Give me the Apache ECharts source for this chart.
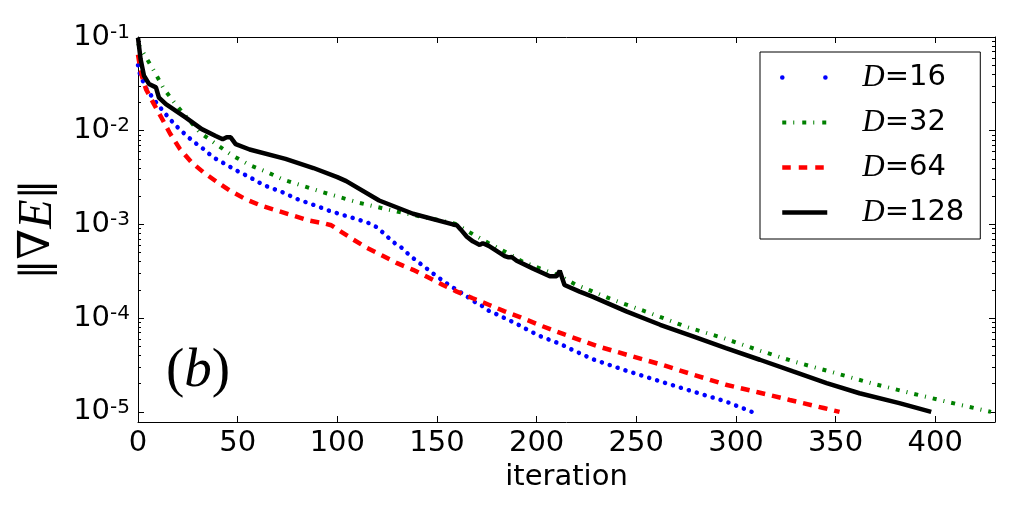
<!DOCTYPE html>
<html>
<head>
<meta charset="utf-8">
<script src="https://cdn.jsdelivr.net/npm/echarts@6/dist/echarts.min.js"></script>
<style>
html,body{margin:0;padding:0;background:#fff;}
#chart{width:1012px;height:512px;}
</style>
</head>
<body>
<div id="chart"></div>
<script>
// ---- data ----
const seriesNames = ['D=16', 'D=32', 'D=64', 'D=128'];

const d16Iter = [0, 1, 4, 8, 12, 16, 20, 24, 28, 32, 36, 40, 44, 48, 52, 56, 60, 64, 68, 72, 80, 88, 96, 104, 112, 116, 120, 124, 128, 132, 136, 140, 144, 148, 152, 156, 160, 164, 168, 172, 176, 180, 184, 190, 196, 202, 208, 212, 216, 228, 245, 262, 278, 295, 308];
const d16Grad = [0.05, 0.04, 0.0285, 0.0215, 0.0168, 0.0133, 0.0108, 0.0090, 0.0076, 0.0066, 0.0056, 0.00485, 0.0044, 0.0039, 0.00352, 0.0032, 0.00285, 0.00258, 0.0024, 0.00223, 0.00186, 0.00162, 0.0014, 0.00124, 0.0011, 0.00103, 0.00093, 0.00078, 0.00065, 0.00057, 0.000475, 0.000405, 0.00035, 0.0003, 0.00026, 0.000226, 0.0002, 0.000177, 0.000153, 0.000138, 0.00012, 0.00011, 0.0001, 0.000087, 0.000074, 0.000064, 0.000057, 0.000053, 0.000048, 0.0000366, 0.0000275, 0.0000212, 0.0000166, 0.0000129, 0.00001];

const d32Iter = [0, 3, 8, 13, 19, 25, 31, 40, 47, 56, 65, 73, 93, 111, 130, 150, 159, 167, 176, 185, 193, 212, 220, 238, 257, 275, 294, 312, 330, 349, 368, 387, 406, 428];
const d32Grad = [0.085, 0.066, 0.0436, 0.028, 0.019, 0.0135, 0.0096, 0.0070, 0.0055, 0.0043, 0.0036, 0.0030, 0.0022, 0.0017, 0.00137, 0.00112, 0.00102, 0.00081, 0.00063, 0.0005, 0.0004, 0.00028, 0.000226, 0.000158, 0.000113, 0.000081, 0.000061, 0.000045, 0.000034, 0.0000263, 0.0000202, 0.000016, 0.0000128, 0.00001];

const d64Iter = [0, 1, 2, 4, 8, 12, 16, 21, 27, 33, 40, 46, 54, 62, 70, 78, 86, 94, 97, 101, 108, 115, 123, 130, 138, 146, 153, 160, 168, 176, 184, 192, 203, 214, 230, 247, 263, 279, 295, 311, 327, 344, 352];
const d64Grad = [0.065, 0.048, 0.038, 0.0278, 0.0192, 0.0135, 0.0094, 0.0064, 0.00457, 0.00358, 0.0028, 0.0023, 0.00186, 0.00158, 0.0014, 0.00124, 0.0011, 0.00102, 0.00098, 0.00086, 0.00069, 0.00056, 0.00046, 0.000386, 0.000328, 0.00027, 0.000226, 0.000192, 0.000163, 0.000139, 0.000118, 0.000102, 0.000082, 0.000067, 0.0000506, 0.0000397, 0.0000318, 0.0000248, 0.0000195, 0.0000162, 0.0000134, 0.000011, 0.00001];

const d128Iter = [0, 0.5, 1.3, 3, 5.5, 9, 10.5, 14, 24, 32, 39, 42.5, 44.5, 46.5, 49, 56, 74, 88, 100, 104.5, 121, 138, 158, 160, 162, 165, 168, 171.5, 173, 176, 184, 186, 187.5, 190, 198, 206.6, 210, 211.6, 214, 221.6, 228, 245, 262, 278.5, 295, 312, 328.7, 345.5, 362, 382, 398];
const d128Grad = [0.098, 0.08, 0.058, 0.0386, 0.0316, 0.029, 0.0226, 0.0192, 0.0138, 0.0104, 0.0088, 0.0081, 0.0085, 0.0085, 0.0072, 0.0063, 0.0050, 0.0040, 0.0032, 0.0029, 0.0018, 0.0013, 0.00100, 0.00098, 0.00088, 0.00074, 0.00066, 0.000605, 0.00063, 0.00059, 0.00046, 0.000445, 0.00045, 0.00041, 0.00034, 0.00028, 0.00028, 0.00032, 0.000226, 0.000192, 0.00017, 0.000118, 0.000085, 0.000064, 0.000048, 0.000036, 0.000027, 0.0000203, 0.0000158, 0.0000124, 0.00001];

const xTickLabels = [0, 50, 100, 150, 200, 250, 300, 350, 400];
const yMajorTicks = [1e-5, 1e-4, 1e-3, 1e-2, 1e-1];
const yMinorTicks = [];
[1e-5, 1e-4, 1e-3, 1e-2].forEach(d => { for (let k = 2; k <= 9; k++) yMinorTicks.push(+(d * k).toPrecision(3)); });

const xMin = 0, xMax = 430, yMin = 7.8e-6, yMax = 0.1;

// ---- build ----
function zip(a, b) { return a.map((v, i) => [v, b[i]]); }

const chart = echarts.init(document.getElementById('chart'), null, { renderer: 'canvas' });

const FONT = 'DejaVu Sans';
const SERIF = 'Liberation Serif';

function supLabel(v) {
  const e = Math.log10(v);
  const r = Math.round(e);
  if (Math.abs(e - r) > 1e-6) return '';
  return '{b|10}{s|' + r + '}';
}

const baseY = {
  type: 'log', min: yMin, max: yMax, logBase: 10,
  splitLine: { show: false }, minorTick: { show: false },
  axisLine: { show: true, lineStyle: { color: '#000', width: 1 } }
};

const option = {
  animation: false,
  backgroundColor: '#fff',
  grid: { left: 138, right: 17, top: 37, bottom: 90, containLabel: false },
  title: {
    text: '{p|(}{b|b}{p|)}', left: 161, top: 339,
    textStyle: { rich: {
      p: { fontFamily: SERIF, fontWeight: 'normal', fontSize: 55, color: '#000' },
      b: { fontFamily: SERIF, fontStyle: 'italic', fontWeight: 'normal', fontSize: 55, color: '#000' }
    } }
  },
  legend: {
    orient: 'vertical', left: 760, top: 52,
    padding: [10, 16, 11, 20],
    itemWidth: 45, itemHeight: 14, itemGap: 14,
    backgroundColor: '#fff', borderColor: '#000', borderWidth: 1, borderRadius: 0,
    selectedMode: false,
    itemStyle: { opacity: 0 },
    data: [
      { name: 'D=16', lineStyle: { type: [0.1, 43], cap: 'round', width: 4.5 } },
      { name: 'D=32', lineStyle: { type: [4, 7, 1, 8], width: 4 } },
      { name: 'D=64', lineStyle: { type: [8.5, 8], width: 4.5 } },
      { name: 'D=128', lineStyle: { type: 'solid', width: 4.5 } }
    ],
    formatter: function (name) { return '{i|D}{t|' + name.slice(1) + '}'; },
    textStyle: {
      width: 100, padding: [0, 0, 0, 30],
      rich: {
        i: { fontFamily: SERIF, fontStyle: 'italic', fontSize: 31, lineHeight: 30, color: '#000' },
        t: { fontFamily: FONT, fontSize: 29, lineHeight: 30, color: '#000' }
      }
    }
  },
  xAxis: [
    {
      type: 'value', min: xMin, max: xMax, interval: 50, position: 'bottom',
      name: 'iteration', nameLocation: 'middle', nameGap: 38,
      nameTextStyle: { fontFamily: FONT, fontSize: 29, color: '#000' },
      splitLine: { show: false },
      axisLine: { lineStyle: { color: '#000', width: 1 } },
      axisTick: { inside: true, length: 6, lineStyle: { color: '#000' } },
      axisLabel: {
        customValues: xTickLabels, margin: 7,
        fontFamily: FONT, fontSize: 29, color: '#000',
        formatter: v => (xTickLabels.indexOf(v) >= 0 ? String(v) : '')
      }
    },
    {
      type: 'value', min: xMin, max: xMax, interval: 50, position: 'top',
      splitLine: { show: false },
      axisLine: { lineStyle: { color: '#000', width: 1 } },
      axisTick: { inside: true, length: 6, lineStyle: { color: '#000' } },
      axisLabel: { show: false }
    }
  ],
  yAxis: [
    Object.assign({}, baseY, {
      position: 'left',
      name: '{n|‖}{v|∇}{e|E}{n|‖}', nameLocation: 'middle', nameGap: 76, nameRotate: 90,
      nameTextStyle: { rich: {
        n: { fontFamily: 'DejaVu Serif', fontSize: 40, color: '#000' },
        v: { fontFamily: 'DejaVu Serif', fontSize: 44, color: '#000' },
        e: { fontFamily: SERIF, fontStyle: 'italic', fontSize: 48, color: '#000' }
      } },
      axisTick: { inside: true, length: 6, customValues: yMajorTicks, lineStyle: { color: '#000' } },
      axisLabel: {
        customValues: yMajorTicks, margin: 8, formatter: supLabel,
        rich: {
          b: { fontFamily: FONT, fontSize: 29, lineHeight: 29, color: '#000' },
          s: { fontFamily: FONT, fontSize: 20, lineHeight: 20, verticalAlign: 'top', padding: [0, 0, 22, 0], color: '#000' }
        }
      }
    }),
    Object.assign({}, baseY, {
      position: 'left', axisLine: { show: false },
      axisTick: { inside: true, length: 3, customValues: yMinorTicks, lineStyle: { color: '#000' } },
      axisLabel: { show: false }
    }),
    Object.assign({}, baseY, {
      position: 'right',
      axisTick: { inside: true, length: 6, customValues: yMajorTicks, lineStyle: { color: '#000' } },
      axisLabel: { show: false }
    }),
    Object.assign({}, baseY, {
      position: 'right', axisLine: { show: false },
      axisTick: { inside: true, length: 3, customValues: yMinorTicks, lineStyle: { color: '#000' } },
      axisLabel: { show: false }
    })
  ],
  series: [
    {
      name: 'D=16', type: 'line', showSymbol: false, symbol: 'none', xAxisIndex: 0, yAxisIndex: 0,
      data: zip(d16Iter, d16Grad), color: '#0000ff',
      lineStyle: { color: '#0000ff', width: 4.5, type: [0.1, 8.2], cap: 'round' }
    },
    {
      name: 'D=32', type: 'line', showSymbol: false, symbol: 'none', xAxisIndex: 0, yAxisIndex: 0,
      data: zip(d32Iter, d32Grad), color: '#008000',
      lineStyle: { color: '#008000', width: 4, type: [4, 7, 1, 7] }
    },
    {
      name: 'D=64', type: 'line', showSymbol: false, symbol: 'none', xAxisIndex: 0, yAxisIndex: 0,
      data: zip(d64Iter, d64Grad), color: '#ff0000',
      lineStyle: { color: '#ff0000', width: 4.5, type: [9, 7] }
    },
    {
      name: 'D=128', type: 'line', showSymbol: false, symbol: 'none', xAxisIndex: 0, yAxisIndex: 0,
      data: zip(d128Iter, d128Grad), color: '#000000',
      lineStyle: { color: '#000000', width: 4.5, type: 'solid' }
    }
  ]
};
chart.setOption(option);
</script>
</body>
</html>
